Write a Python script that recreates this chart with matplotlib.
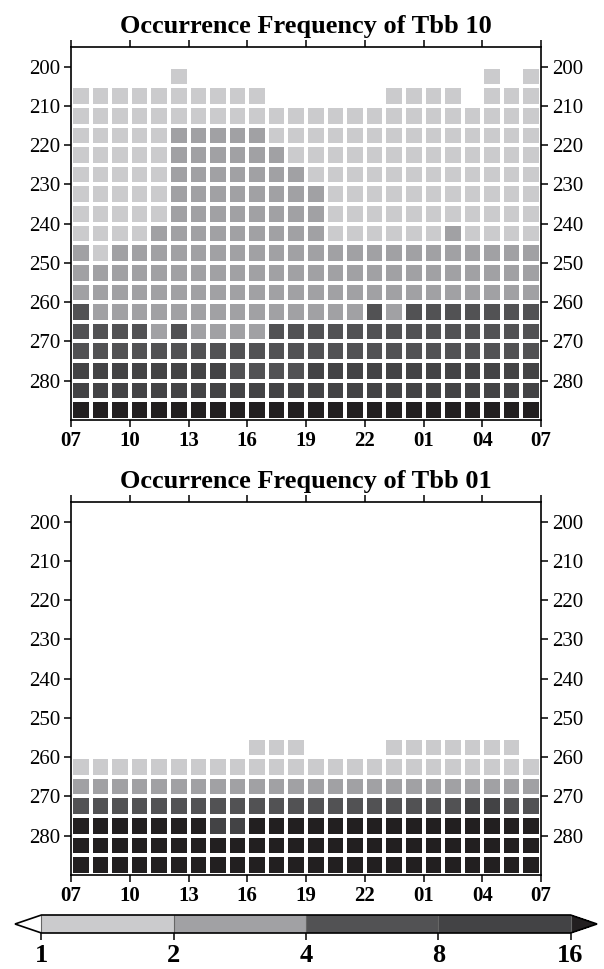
import numpy as np
import matplotlib.pyplot as plt
from matplotlib.colors import ListedColormap, BoundaryNorm

plt.rcParams['font.family'] = ['Liberation Serif', 'DejaVu Serif']

# hour labels along x (one column per hour, 07 -> 07 next day)
hour_labels = ['07', '10', '13', '16', '19', '22', '01', '04', '07']
tbb_edges = np.arange(200, 295, 5)          # 200..290 K, 5 K bins
levels = [1, 2, 4, 8, 16]
level_colors = ['#cbcbcd', '#a1a1a4', '#525254', '#434345']
under_color = 'white'
over_color = '#221f20'

# bin code per cell -> representative frequency (%)
# 0: <1, 1: 1-2, 2: 2-4, 3: 4-8, 4: 8-16, 5: >16
code_value = {'0': 0.0, '1': 1.5, '2': 3.0, '3': 6.0, '4': 12.0, '5': 20.0}

# rows from 200 K down to 285 K, 24 hourly columns
freq_tbb10 = [
    '000001000000000000000101',
    '111111111100000011110111',
    '111111111111111111111111',
    '111112222211111111111111',
    '111112222221111111111111',
    '111112222222111111111111',
    '111112222222211111111111',
    '111112222222211111111111',
    '111122222222211111121111',
    '212222222222222222222222',
    '222222222222222222222222',
    '222222222222222222222222',
    '322222222222222323333333',
    '333323222233333333333333',
    '333333333333333333333333',
    '444444443333444444444444',
    '444444444444444444444444',
    '555555555555555555555555',
]

freq_tbb01 = [
    '000000000000000000000000',
    '000000000000000000000000',
    '000000000000000000000000',
    '000000000000000000000000',
    '000000000000000000000000',
    '000000000000000000000000',
    '000000000000000000000000',
    '000000000000000000000000',
    '000000000000000000000000',
    '000000000000000000000000',
    '000000000000000000000000',
    '000000000111000011111110',
    '111111111111111111111111',
    '222222222222222222222222',
    '333333333333333333334433',
    '555555544555555555555555',
    '555555555555555555555555',
    '555555555555555555555555',
]


def to_grid(rows):
    g = np.array([[code_value[c] for c in r] for r in rows])
    return np.ma.masked_less(g, 1)


cmap = ListedColormap(level_colors)
cmap.set_under(under_color)
cmap.set_over(over_color)
norm = BoundaryNorm(levels, cmap.N)

fig = plt.figure(figsize=(6.04, 9.69), dpi=100)
ax1 = fig.add_axes([71/604, 1 - 420/969, 470/604, 373/969])
ax2 = fig.add_axes([71/604, 1 - 875/969, 470/604, 373/969])
cax = fig.add_axes([15/604, 1 - 933/969, 582/604, 18/969])


def panel(ax, rows, title):
    x = np.arange(25)
    m = ax.pcolormesh(x, tbb_edges, to_grid(rows), cmap=cmap, norm=norm,
                      edgecolors='white', linewidth=1.5)
    ax.set_xlim(0, 24)
    ax.set_ylim(290, 195)
    ax.set_xticks(np.arange(0, 25, 3))
    ax.set_xticklabels(hour_labels, fontweight='bold', fontsize=15)
    ax.set_yticks(np.arange(200, 281, 10))
    ax.tick_params(axis='y', labelsize=15, labelright=True, pad=3)
    ax.tick_params(axis='x', pad=3)
    ax.tick_params(axis='both', direction='out', length=5, width=1.1,
                   top=True, right=True)
    for s in ax.spines.values():
        s.set_linewidth(1.2)
    ax.set_title(title, fontweight='bold', fontsize=19, pad=10)
    return m


m1 = panel(ax1, freq_tbb10, 'Occurrence Frequency of Tbb 10')
panel(ax2, freq_tbb01, 'Occurrence Frequency of Tbb 01')

cb = fig.colorbar(m1, cax=cax, orientation='horizontal', extend='both',
                  ticks=levels, drawedges=True)
cb.outline.set_linewidth(1.2)
cb.dividers.set_color('#666666')
cb.dividers.set_linewidth(0.8)
cb.ax.tick_params(length=5, width=1.1, direction='out', pad=3)
cb.ax.set_xticklabels([str(v) for v in levels], fontweight='bold', fontsize=19)

fig.savefig('out.png', dpi=100)
